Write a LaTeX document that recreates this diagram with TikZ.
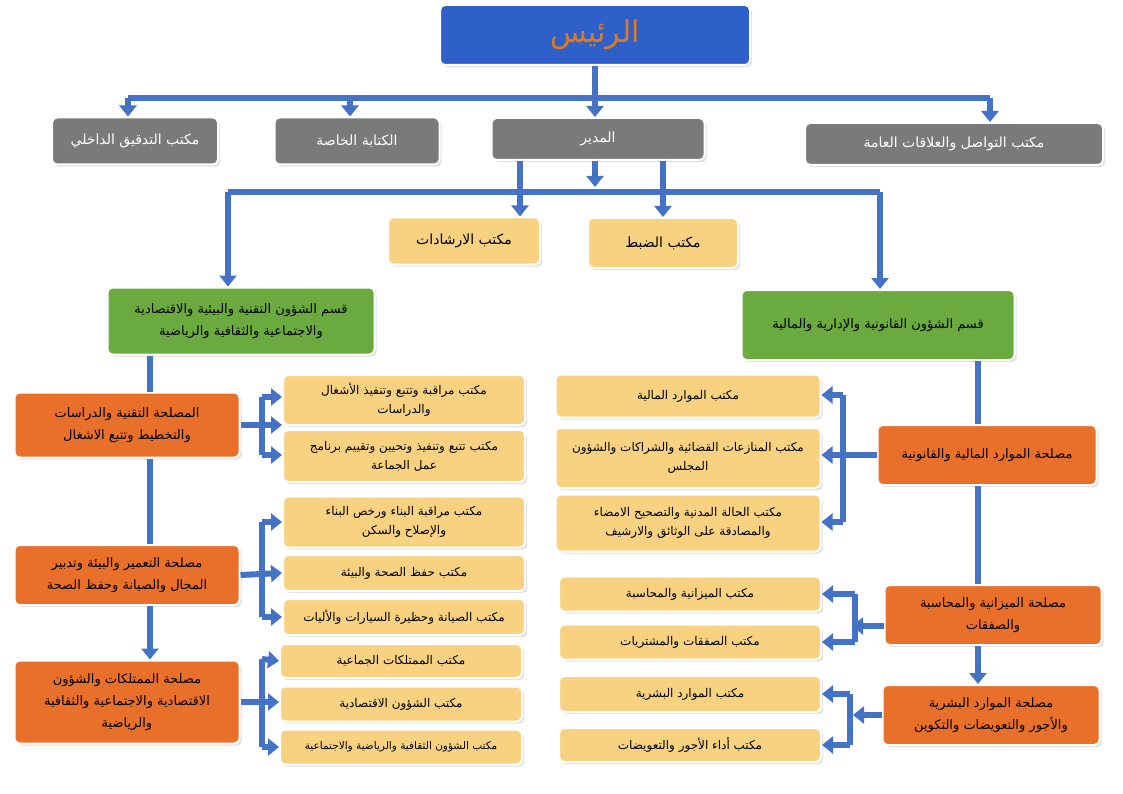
\documentclass[tikz,border=0pt]{standalone}
\usepackage{fontspec}
\newfontfamily\ar[Script=Arabic]{DejaVu Sans}
\TeXXeTstate=1
\usetikzlibrary{positioning, arrows.meta, shadows}
\definecolor{linkblue}{HTML}{4472C4}
\definecolor{topblue}{HTML}{2F5FC8}
\definecolor{greybox}{HTML}{7A7A7A}
\definecolor{greenbox}{HTML}{6BAA3E}
\definecolor{orangebox}{HTML}{E8702A}
\definecolor{yellowbox}{HTML}{F9D281}
\definecolor{raeestext}{HTML}{E07A1F}
\tikzset{
  box/.style={draw=white, line width=2pt, rounded corners=5pt, align=center, font=\ar\fontsize{12}{19}\selectfont, inner sep=2pt, drop shadow={opacity=0.25}},
  greyb/.style={box, fill=greybox, text=white, font=\ar\fontsize{14}{18}\selectfont},
  greenb/.style={box, fill=greenbox, font=\ar\fontsize{13}{22}\selectfont},
  orangeb/.style={box, fill=orangebox, font=\ar\fontsize{13}{22}\selectfont},
  yellowb/.style={box, fill=yellowbox},
  link/.style={linkblue, line width=6pt},
  tip/.style={link, -{Triangle[width=17pt,length=11pt]}}
}
\begin{document}
\begin{tikzpicture}[x=1pt, y=-1pt]
\useasboundingbox (0,0) rectangle (1123,794);

% top level
\node[box, fill=topblue, text=raeestext, font=\ar\fontsize{30}{34}\selectfont, minimum width=310pt, minimum height=60pt] (raees) at (595,35) {\beginR الرئيس\endR};
\node[greyb, minimum width=213pt, minimum height=42pt] (mudir) at (598,139) {\beginR المدير\endR};
\node[greyb, minimum width=166pt, minimum height=47pt] (audit) at (135,141) {\beginR مكتب التدقيق الداخلي\endR};
\node[greyb, minimum width=165pt, minimum height=47pt] (katiba) at (357,141) {\beginR الكتابة الخاصة\endR};
\node[greyb, minimum width=298pt, minimum height=42pt] (tawasul) at (954,144) {\beginR مكتب التواصل والعلاقات العامة\endR};
\node[yellowb, font=\ar\fontsize{14}{18}\selectfont, minimum width=152pt, minimum height=47pt] (irshad) at (464,241) {\beginR مكتب الارشادات\endR};
\node[yellowb, font=\ar\fontsize{14}{18}\selectfont, minimum width=150pt, minimum height=50pt] (dabt) at (663,243) {\beginR مكتب الضبط\endR};

% departments
\node[greenb, minimum width=267pt, minimum height=67pt] (qleft) at (241,321) {\beginR قسم الشؤون التقنية والبيئية والاقتصادية\endR\\\beginR والاجتماعية والثقافية والرياضية\endR};
\node[greenb, minimum width=273pt, minimum height=70pt] (qright) at (878,325) {\beginR قسم الشؤون القانونية والإدارية والمالية\endR};

% left services
\node[orangeb, minimum width=225pt, minimum height=65pt] (ml1) at (127,425) {\beginR المصلحة التقنية والدراسات\endR\\\beginR والتخطيط وتتبع الاشغال\endR};
\node[orangeb, minimum width=225pt, minimum height=60pt] (ml2) at (127,575) {\beginR مصلحة التعمير والبيئة وتدبير\endR\\\beginR المجال والصيانة وحفظ الصحة\endR};
\node[orangeb, minimum width=225pt, minimum height=83pt] (ml3) at (127,702) {\beginR مصلحة الممتلكات والشؤون\endR\\\beginR الاقتصادية والاجتماعية والثقافية\endR\\\beginR والرياضية\endR};

% left offices
\node[yellowb, minimum width=242pt, minimum height=50pt] (l1) at (404,400) {\beginR مكتب مراقبة وتتبع وتنفيذ الأشغال\endR\\\beginR والدراسات\endR};
\node[yellowb, minimum width=242pt, minimum height=52pt] (l2) at (404,456) {\beginR مكتب تتبع وتنفيذ وتحيين وتقييم برنامج\endR\\\beginR عمل الجماعة\endR};
\node[yellowb, minimum width=242pt, minimum height=51pt] (l3) at (404,522) {\beginR مكتب مراقبة البناء ورخص البناء\endR\\\beginR والإصلاح والسكن\endR};
\node[yellowb, minimum width=242pt, minimum height=36pt] (l4) at (404,573) {\beginR مكتب حفظ الصحة والبيئة\endR};
\node[yellowb, minimum width=242pt, minimum height=36pt] (l5) at (404,617) {\beginR مكتب الصيانة وحظيرة السيارات والأليات\endR};
\node[yellowb, minimum width=242pt, minimum height=34pt] (l6) at (401,661) {\beginR مكتب الممتلكات الجماعية\endR};
\node[yellowb, minimum width=242pt, minimum height=35pt] (l7) at (401,704) {\beginR مكتب الشؤون الاقتصادية\endR};
\node[yellowb, font=\ar\fontsize{10.5}{14}\selectfont, minimum width=242pt, minimum height=35pt] (l8) at (401,747) {\beginR مكتب الشؤون الثقافية والرياضية والاجتماعية\endR};

% right services
\node[orangeb, minimum width=219pt, minimum height=60pt] (mr1) at (987,455) {\beginR مصلحة الموارد المالية والقانونية\endR};
\node[orangeb, minimum width=217pt, minimum height=60pt] (mr2) at (993,615) {\beginR مصلحة الميزانية والمحاسبة\endR\\\beginR والصفقات\endR};
\node[orangeb, minimum width=217pt, minimum height=60pt] (mr3) at (991,715) {\beginR مصلحة الموارد البشرية\endR\\\beginR والأجور والتعويضات والتكوين\endR};

% right offices
\node[yellowb, minimum width=265pt, minimum height=43pt] (r1) at (688,396) {\beginR مكتب الموارد المالية\endR};
\node[yellowb, minimum width=265pt, minimum height=60pt] (r2) at (688,458) {\beginR مكتب المنازعات القضائية والشراكات والشؤون\endR\\\beginR المجلس\endR};
\node[yellowb, minimum width=265pt, minimum height=57pt] (r3) at (688,523) {\beginR مكتب الحالة المدنية والتصحيح الامضاء\endR\\\beginR والمصادقة على الوثائق والارشيف\endR};
\node[yellowb, minimum width=262pt, minimum height=35pt] (r4) at (690,594) {\beginR مكتب الميزانية والمحاسبة\endR};
\node[yellowb, minimum width=262pt, minimum height=35pt] (r5) at (690,642) {\beginR مكتب الصفقات والمشتريات\endR};
\node[yellowb, minimum width=262pt, minimum height=36pt] (r6) at (690,694) {\beginR مكتب الموارد البشرية\endR};
\node[yellowb, minimum width=262pt, minimum height=34pt] (r7) at (690,745) {\beginR مكتب أداء الأجور والتعويضات\endR};

% top links
\coordinate (bar) at (595,98);
\draw[link] (raees.south) -- (bar);
\draw[link] (128,98) -- (990,98);
\draw[tip] (128,98) -- (audit.north -| 128,0);
\draw[tip] (350,98) -- (katiba.north -| 350,0);
\draw[tip] (bar) -- (mudir.north -| bar);
\draw[tip] (990,98) -- (tawasul.north -| 990,0);

% director links
\draw[tip] (mudir.south -| 520,0) -- (irshad.north -| 520,0);
\draw[tip] (mudir.south -| 663,0) -- (dabt.north);
\draw[tip] (mudir.south -| 595,0) -- (595,187);
\draw[link] (228,192) -- (880,192);
\draw[tip] (228,192) -- (qleft.north -| 228,0);
\draw[tip] (880,192) -- (qright.north -| 880,0);

% left column
\draw[link] (qleft.south -| 150,0) -- (ml1.north -| 150,0);
\draw[link] (ml1.south -| 150,0) -- (ml2.north -| 150,0);
\draw[tip] (ml2.south -| 150,0) -- (ml3.north -| 150,0);

\draw[tip] (ml1.east) -- (l1.west |- ml1.east);
\draw[link] (262,397) -- (262,455);
\draw[tip] (262,397) -- (l1.west |- 0,397);
\draw[tip] (262,455) -- (l2.west |- 0,455);

\draw[tip] (ml2.east) -- (l4.west);
\draw[link] (262,522) -- (262,617);
\draw[tip] (262,522) -- (l3.west);
\draw[tip] (262,617) -- (l5.west);

\draw[tip] (ml3.east) -- (l7.west |- ml3.east);
\draw[link] (262,659) -- (262,747);
\draw[tip] (262,659) -- (l6.west);
\draw[tip] (262,747) -- (l8.west);

% right column
\draw[link] (qright.south -| 978,0) -- (mr1.north -| 978,0);
\draw[link] (mr1.south -| 978,0) -- (mr2.north -| 978,0);
\draw[tip] (mr2.south -| 978,0) -- (mr3.north -| 978,0);

\draw[tip] (mr1.west) -- (r2.east |- mr1.west);
\draw[link] (843,395) -- (843,522);
\draw[tip] (843,395) -- (r1.east |- 0,395);
\draw[tip] (843,522) -- (r3.east |- 0,522);

\draw[tip] (mr2.west |- 0,626) -- (852,626);
\draw[link] (855,594) -- (855,642);
\draw[tip] (855,594) -- (r4.east);
\draw[tip] (855,642) -- (r5.east);

\draw[tip] (mr3.west) -- (853,715);
\draw[link] (850,694) -- (850,745);
\draw[tip] (850,694) -- (r6.east);
\draw[tip] (850,745) -- (r7.east);
\end{tikzpicture}
\end{document}
